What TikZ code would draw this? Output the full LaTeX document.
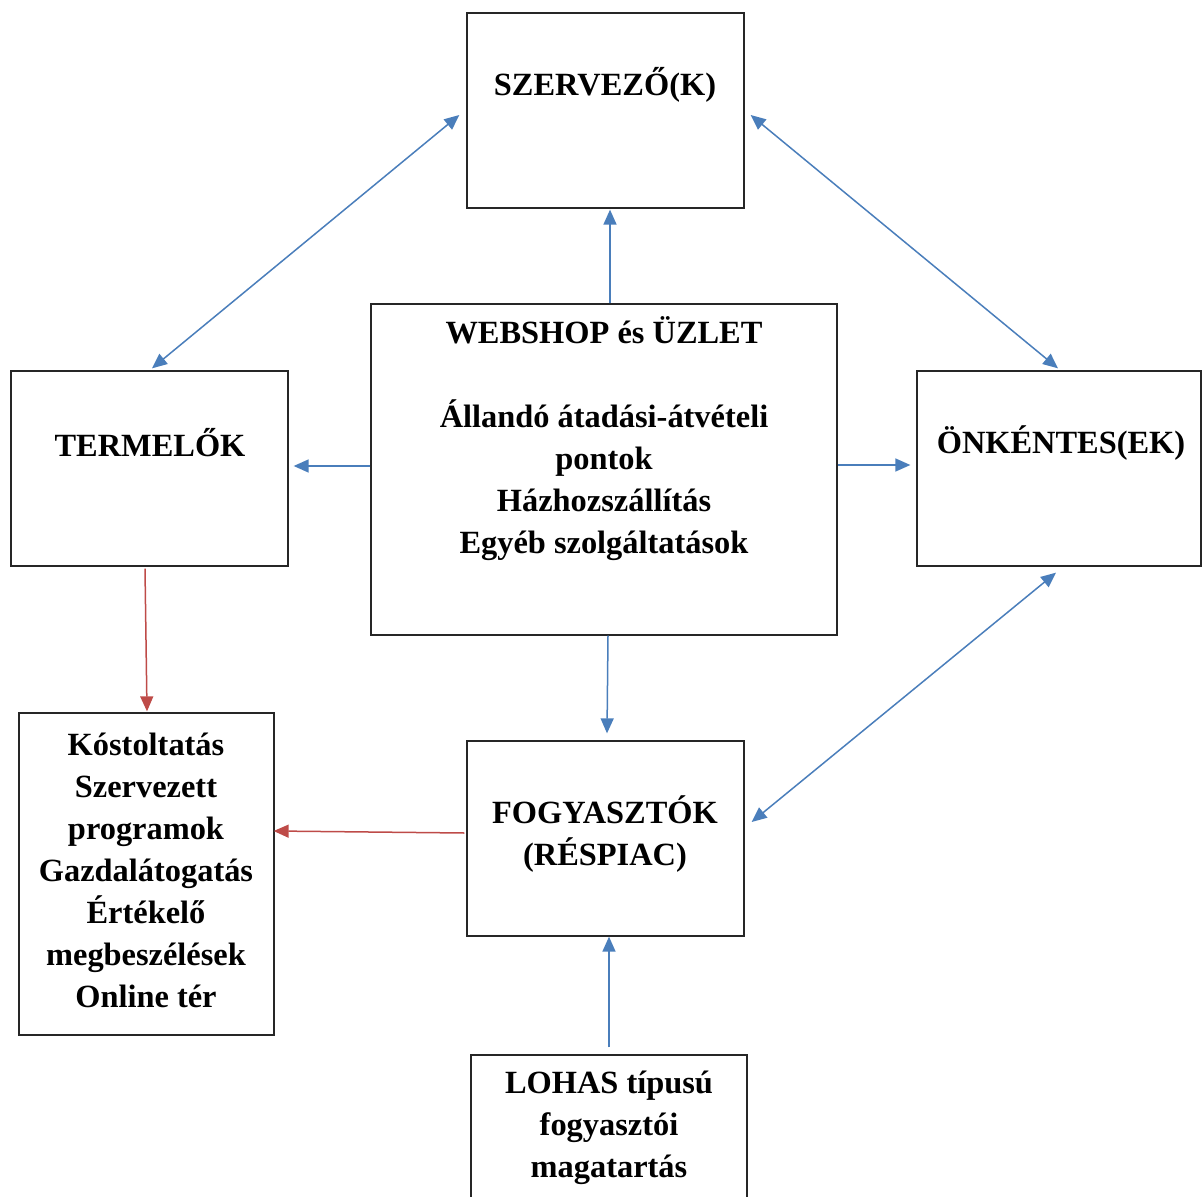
\documentclass[tikz,border=0pt]{standalone}
\usepackage{fontspec}
\setmainfont{Liberation Serif}
\usetikzlibrary{arrows.meta,calc}
\definecolor{flowblue}{RGB}{74,126,187}
\definecolor{flowred}{RGB}{190,75,72}
\tikzset{
  box/.style={draw=black!85, line width=0.65pt, inner sep=0pt},
  txt/.style={align=center, inner sep=0pt, font=\bfseries\fontsize{16.2pt}{21pt}\selectfont},
  bluearr/.style={draw=flowblue, line width=0.75pt, -{Triangle[length=7.5pt,width=6.5pt]}},
  bluedbl/.style={bluearr, {Triangle[length=7.5pt,width=6.5pt]}-{Triangle[length=7.5pt,width=6.5pt]}},
  redarr/.style={draw=flowred, line width=0.75pt, -{Triangle[length=7.5pt,width=6.5pt]}}
}
\begin{document}
\begin{tikzpicture}[x=0.5pt,y=-0.5pt]
  \useasboundingbox (0,0) rectangle (1203,1197);
  % dobozok
  \node[box, minimum width=138.5pt, minimum height=97.5pt] (szervezo) at (605.5,110.5) {};
  \node[box, minimum width=233pt, minimum height=165.5pt] (webshop) at (604,469.5) {};
  \node[box, minimum width=138.5pt, minimum height=97.5pt] (termelok) at (149.5,468.5) {};
  \node[box, minimum width=142pt, minimum height=97.5pt] (onkentes) at (1059,468.5) {};
  \node[box, minimum width=138.5pt, minimum height=97.5pt] (fogyaszto) at (605.5,838.5) {};
  \node[box, minimum width=127.5pt, minimum height=161pt] (kostol) at (146.5,874) {};
  \node[box, minimum width=138pt, minimum height=97.5pt] (lohas) at (609,1152.5) {};
  % szovegek
  \node[txt] (szervezo-t) at (605,85) {SZERVEZŐ(K)};
  \node[txt] (webshop-t) at (604,439) {WEBSHOP és ÜZLET\\[21pt]Állandó átadási-átvételi\\pontok\\Házhozszállítás\\Egyéb szolgáltatások};
  \node[txt] (termelok-t) at (150,443) {TERMELŐK};
  \node[txt] (onkentes-t) at (1061,443) {ÖNKÉNTES(EK)};
  \node[txt] (fogyaszto-t) at (605,834.5) {FOGYASZTÓK\\(RÉSPIAC)};
  \node[txt] (kostol-t) at (146,870) {Kóstoltatás\\Szervezett\\programok\\Gazdalátogatás\\Értékelő\\megbeszélések\\Online tér};
  \node[txt] (lohas-t) at (609,1127.5) {LOHAS típusú\\fogyasztói\\magatartás};
  % nyilak
  \draw[bluedbl] ($(szervezo.west)+(-7,4.5)$) -- ($(termelok.north)+(2.5,-2)$);
  \draw[bluedbl] ($(szervezo.east)+(6,4.5)$) -- ($(onkentes.north)+(-1,-2)$);
  \draw[bluedbl] ($(onkentes.south)+(-3,6)$) -- ($(fogyaszto.east)+(7,-16.5)$);
  \draw[bluearr] ($(webshop.north)+(6,0)$) -- ($(szervezo.south)+(4.5,1)$);
  \draw[bluearr] ($(webshop.west)+(0,-3.5)$) -- ($(termelok.east)+(5,-2.5)$);
  \draw[bluearr] ($(webshop.east)+(0,-4.5)$) -- ($(onkentes.west)+(-6,-3.5)$);
  \draw[bluearr] ($(webshop.south)+(4,0)$) -- ($(fogyaszto.north)+(1.5,-7)$);
  \draw[bluearr] ($(lohas.north)+(0,-7)$) -- ($(fogyaszto.south)+(3.5,0)$);
  \draw[redarr] ($(termelok.south)+(-4.5,2)$) -- ($(kostol.north)+(0.5,-1)$);
  \draw[redarr] ($(fogyaszto.west)+(-2,-5.5)$) -- ($(kostol.east)+(-1,-43)$);
\end{tikzpicture}
\end{document}
